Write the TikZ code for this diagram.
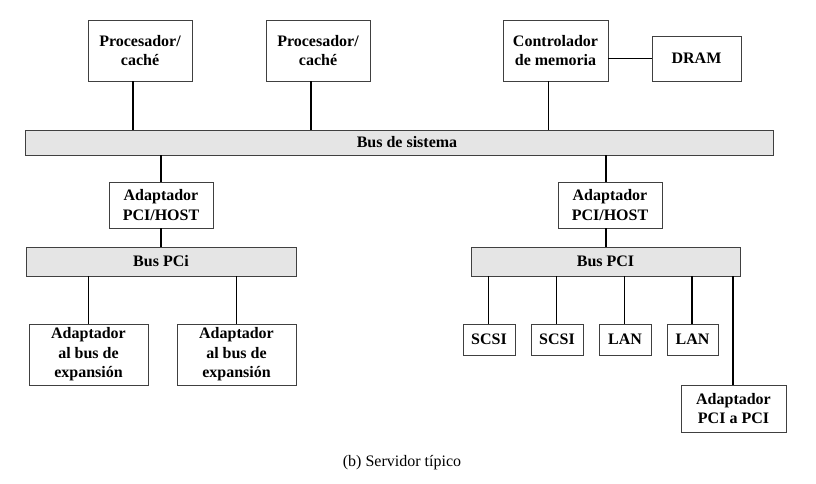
\documentclass[tikz,border=0pt]{standalone}
\usepackage{fontspec}
\setmainfont{Liberation Serif}
\usepackage{tikz}
\usetikzlibrary{positioning}

\begin{document}
\begin{tikzpicture}[x=1pt,y=-1pt,
    box/.style={draw=black!75, line width=.8pt, align=center, inner sep=0pt,
      font=\fontsize{16}{19.5}\selectfont\bfseries},
    bus/.style={box, fill=black!10},
    wire/.style={line width=1.9pt}]
    \useasboundingbox (0,0) rectangle (816,483);
    % upper level
    \node[box, minimum width=104pt, minimum height=61pt] (proc1) at (140,50.5) {Procesador/\\cach\'e};
    \node[box, minimum width=104pt, minimum height=61pt] (proc2) at (318,50.5) {Procesador/\\cach\'e};
    \node[box, minimum width=105pt, minimum height=61pt] (ctrl) at (555.5,50.5) {Controlador\\de memoria};
    \node[box, minimum width=89pt, minimum height=45pt] (dram) at (696.5,58.5) {DRAM};
    \node[bus, minimum width=748pt, minimum height=25pt] (sysbus) at (399,142.5) {\hspace{16pt}Bus de sistema};
    % bridges
    \node[box, minimum width=104pt, minimum height=46pt] (hostL) at (161,205) {Adaptador\\PCI/HOST};
    \node[box, minimum width=104pt, minimum height=46pt] (hostR) at (610,205) {Adaptador\\PCI/HOST};
    \node[bus, minimum width=270pt, minimum height=29pt] (pcibusL) at (161,261.5) {Bus PCi};
    \node[bus, minimum width=269pt, minimum height=29pt] (pcibusR) at (605.5,261.5) {Bus PCI};
    % devices
    \node[box, minimum width=119pt, minimum height=61pt] (expL) at (88.5,354.5) {Adaptador\\al bus de\\expansi\'on};
    \node[box, minimum width=119pt, minimum height=61pt] (expR) at (236.5,354.5) {Adaptador\\al bus de\\expansi\'on};
    \node[box, minimum width=52pt, minimum height=31pt] (scsi1) at (489,339.5) {SCSI};
    \node[box, minimum width=52pt, minimum height=31pt] (scsi2) at (557,339.5) {SCSI};
    \node[box, minimum width=52pt, minimum height=31pt] (lan1) at (625,339.5) {LAN};
    \node[box, minimum width=51pt, minimum height=31pt] (lan2) at (692.5,339.5) {LAN};
    \node[box, minimum width=105pt, minimum height=47pt] (pcipci) at (733.5,408.5) {Adaptador\\PCI a PCI};
    \node[font=\fontsize{16}{19}\selectfont] (caption) at (402,463) {(b) Servidor t\'ipico};
    % connections
    \draw[wire] ([xshift=-7pt]proc1.south) -- ([xshift=-7pt]proc1.south |- sysbus.north);
    \draw[wire] ([xshift=-7pt]proc2.south) -- ([xshift=-7pt]proc2.south |- sysbus.north);
    \draw[wire] ([xshift=-7pt]ctrl.south) -- ([xshift=-7pt]ctrl.south |- sysbus.north);
    \draw[wire] (ctrl.east |- dram.west) -- (dram.west);
    \draw[wire] (hostL.north) -- (hostL.north |- sysbus.south);
    \draw[wire] (hostL.south) -- (pcibusL.north);
    \draw[wire] ([xshift=-4pt]hostR.north) -- ([xshift=-4pt]hostR.north |- sysbus.south);
    \draw[wire] ([xshift=-4pt]hostR.south) -- ([xshift=-4pt]hostR.south |- pcibusR.north);
    \draw[wire] (expL.north) -- (expL.north |- pcibusL.south);
    \draw[wire] (expR.north) -- (expR.north |- pcibusL.south);
    \foreach \dev in {scsi1,scsi2,lan1,lan2,pcipci}
      \draw[wire] ([xshift=-.5pt]\dev.north) -- ([xshift=-.5pt]\dev.north |- pcibusR.south);
\end{tikzpicture}
\end{document}
